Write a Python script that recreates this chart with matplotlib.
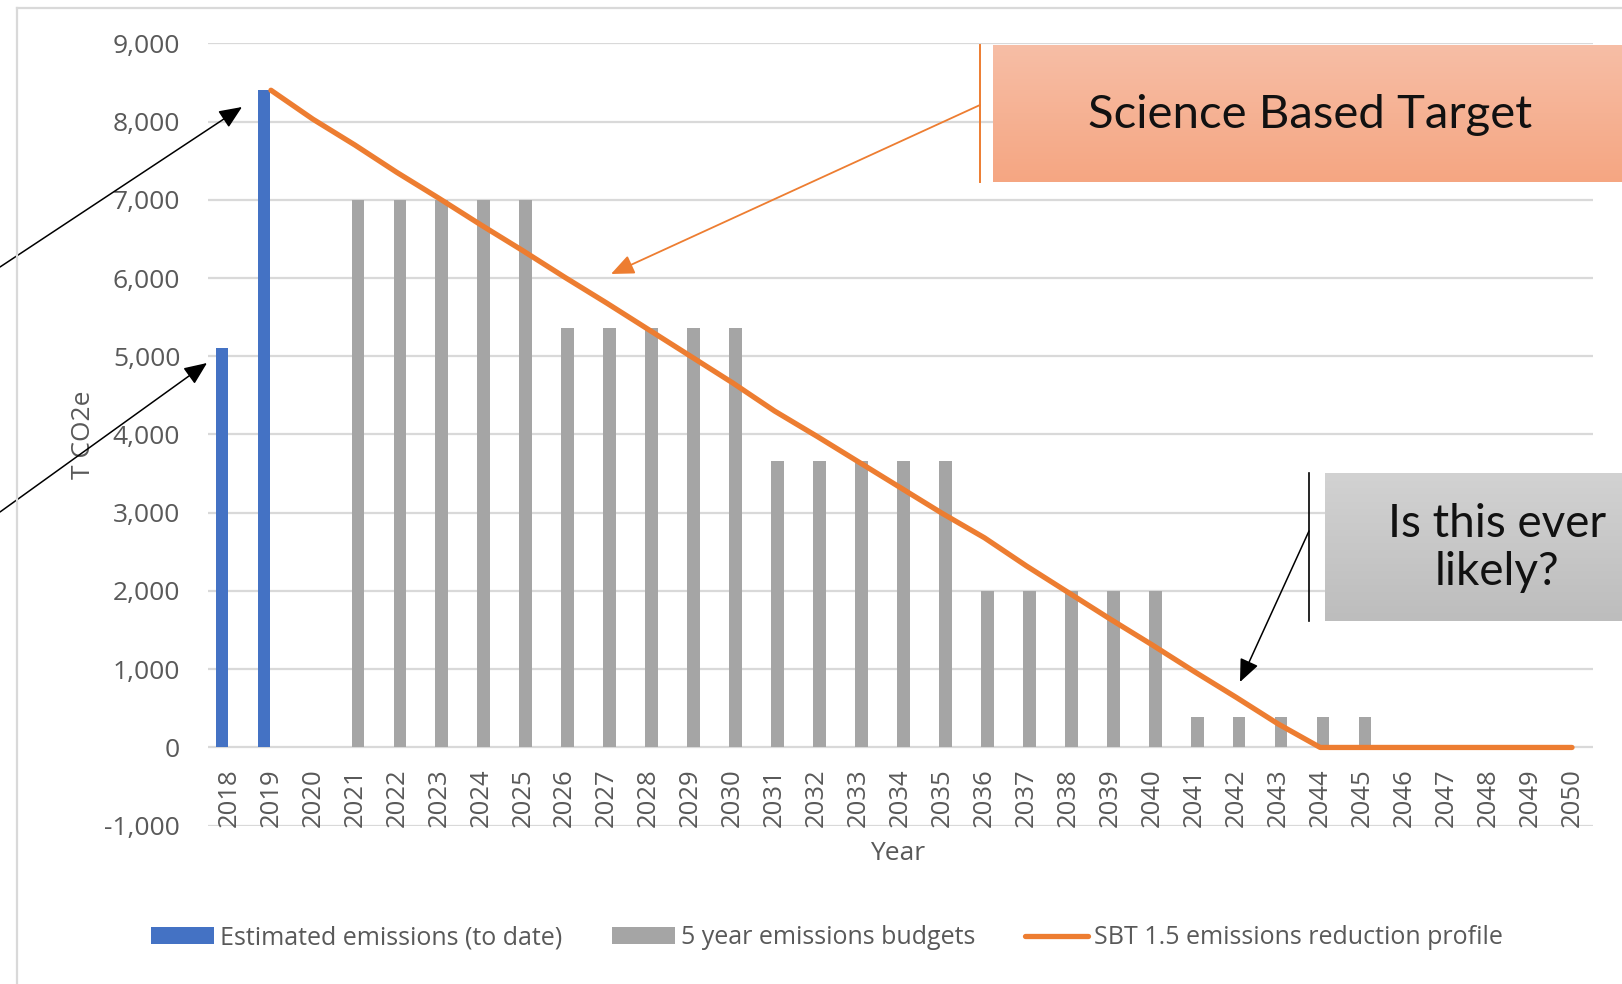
import matplotlib
matplotlib.use('Agg')
import matplotlib.pyplot as plt
import numpy as np
from matplotlib.lines import Line2D
from matplotlib.patches import Patch, FancyArrowPatch
from matplotlib.colors import LinearSegmentedColormap

# ---------------- data ----------------
years = list(range(2018, 2051))
estimated = [5100, 8400] + [0] * 31
budgets = [0, 0, 0] + [7000] * 5 + [5360] * 5 + [3660] * 5 + [2000] * 5 + [390] * 5 + [0] * 5
sbt = [np.nan, 8400, 8030, 7700, 7350, 7020, 6680, 6350, 6010, 5680, 5340, 5000,
       4660, 4300, 3980, 3650, 3320, 2990, 2680, 2320, 1980, 1640, 1310, 970,
       640, 300, 0, 0, 0, 0, 0, 0, 0]
yticks = list(range(-1000, 9001, 1000))
legend_labels = ['Estimated emissions (to date)', '5 year emissions budgets',
                 'SBT 1.5 emissions reduction profile']

BLUE = '#4472C4'
GRAY = '#A5A5A5'
ORANGE = '#ED7D31'
TXT = '#595959'
GRID = '#D9D9D9'

W, H = 1622, 984
plt.rcParams['font.family'] = ['Open Sans', 'DejaVu Sans']

def fx(px):
    return px / W

def fy(py):
    return 1 - py / H

fig = plt.figure(figsize=(W / 100, H / 100), dpi=100)

# chart border (top + left visible)
fig.add_artist(Line2D([fx(17), fx(17)], [fy(8), fy(984)], color=GRID, lw=1.6, transform=fig.transFigure))
fig.add_artist(Line2D([fx(17), fx(1622)], [fy(8), fy(8)], color=GRID, lw=1.6, transform=fig.transFigure))

ax = fig.add_axes([fx(208), fy(825.7), fx(1593) - fx(208), fy(43.3) - fy(825.7)])
x = np.arange(len(years))

est = np.array(estimated, dtype=float)
bud = np.array(budgets, dtype=float)
m1 = est > 0
m2 = bud > 0
ax.bar(x[m1] - 0.165, est[m1], width=0.3, color=BLUE, zorder=2)
ax.bar(x[m2] + 0.07, bud[m2], width=0.3, color=GRAY, zorder=2)
ax.plot(x, sbt, color=ORANGE, lw=3.8, solid_capstyle='round', solid_joinstyle='round', zorder=3)

ax.set_xlim(-0.5, 32.5)
ax.set_ylim(-1000, 9000)
ax.set_yticks(yticks)
ax.set_yticklabels([f'{v:,}' for v in yticks], fontsize=19, color=TXT)
ax.tick_params(axis='y', length=0, pad=20)
ax.set_xticks([])
ax.yaxis.grid(True, color=GRID, lw=1.6, zorder=0)
ax.set_axisbelow(True)
for s in ax.spines.values():
    s.set_visible(False)

for i, yr in enumerate(years):
    ax.annotate(str(yr), (i, 0), xytext=(0, -15), textcoords='offset points',
                rotation=90, ha='center', va='top', fontsize=18.5, color=TXT)

ax.set_ylabel('T CO2e', fontsize=19, color=TXT, va='center')
ax.yaxis.set_label_coords((84 - 208) / (1593 - 208), 0.5)
fig.text(fx(898), fy(853), 'Year', ha='center', va='center', fontsize=19, color=TXT)

handles = [Patch(facecolor=BLUE), Patch(facecolor=GRAY),
           Line2D([], [], color=ORANGE, lw=3.8, solid_capstyle='round')]
fig.legend(handles, legend_labels, loc='center', bbox_to_anchor=(fx(827), fy(938)),
           ncol=3, frameon=False, fontsize=18, handlelength=2.5, handleheight=0.65,
           handletextpad=0.25, columnspacing=2.0, labelcolor=TXT)

# --- callout boxes ---
def grad_box(x0, y0, x1, y1, top, bottom):
    bax = fig.add_axes([fx(x0), fy(y1), fx(x1) - fx(x0), fy(y0) - fy(y1)])
    cmap = LinearSegmentedColormap.from_list('g', [top, bottom])
    bax.imshow(np.linspace(0, 1, 200).reshape(-1, 1), cmap=cmap, aspect='auto',
               extent=[0, 1, 0, 1])
    bax.set_xlim(0, 1)
    bax.set_ylim(0, 1)
    bax.axis('off')
    return bax

grad_box(993, 44.5, 1622, 182, '#F7BEA6', '#F5A682')
fig.text(fx(1310), fy(115), 'Science Based Target', ha='center', va='center',
         fontsize=34, color='#111111', family=['Lato', 'DejaVu Sans'])

grad_box(1325, 473, 1622, 621, '#D2D2D2', '#BDBDBD')
fig.text(fx(1497), fy(548), 'Is this ever\nlikely?', ha='center', va='center',
         fontsize=33, color='#111111', family=['Lato', 'DejaVu Sans'], linespacing=1.2)

# leader lines
fig.add_artist(Line2D([fx(980), fx(980)], [fy(44.5), fy(182)], color=ORANGE, lw=1.4,
                      transform=fig.transFigure))
fig.add_artist(FancyArrowPatch((fx(980), fy(105)), (fx(611), fy(274)), transform=fig.transFigure,
                               arrowstyle='-|>,head_length=0.7,head_width=0.3', mutation_scale=20,
                               color=ORANGE, lw=1.3, shrinkA=0, shrinkB=0))
fig.add_artist(Line2D([fx(1309), fx(1309)], [fy(473), fy(621)], color='black', lw=1.2,
                      transform=fig.transFigure))
fig.add_artist(FancyArrowPatch((fx(1309), fy(531)), (fx(1240), fy(682)), transform=fig.transFigure,
                               arrowstyle='-|>,head_length=0.7,head_width=0.3', mutation_scale=20,
                               color='black', lw=1.1, shrinkA=0, shrinkB=0))
fig.add_artist(FancyArrowPatch((fx(0), fy(267)), (fx(242), fy(107)), transform=fig.transFigure,
                               arrowstyle='-|>,head_length=0.7,head_width=0.3', mutation_scale=20,
                               color='black', lw=1.1, shrinkA=0, shrinkB=0))
fig.add_artist(FancyArrowPatch((fx(0), fy(512)), (fx(207), fy(363)), transform=fig.transFigure,
                               arrowstyle='-|>,head_length=0.7,head_width=0.3', mutation_scale=20,
                               color='black', lw=1.1, shrinkA=0, shrinkB=0))

fig.savefig('out.png', dpi=100)
